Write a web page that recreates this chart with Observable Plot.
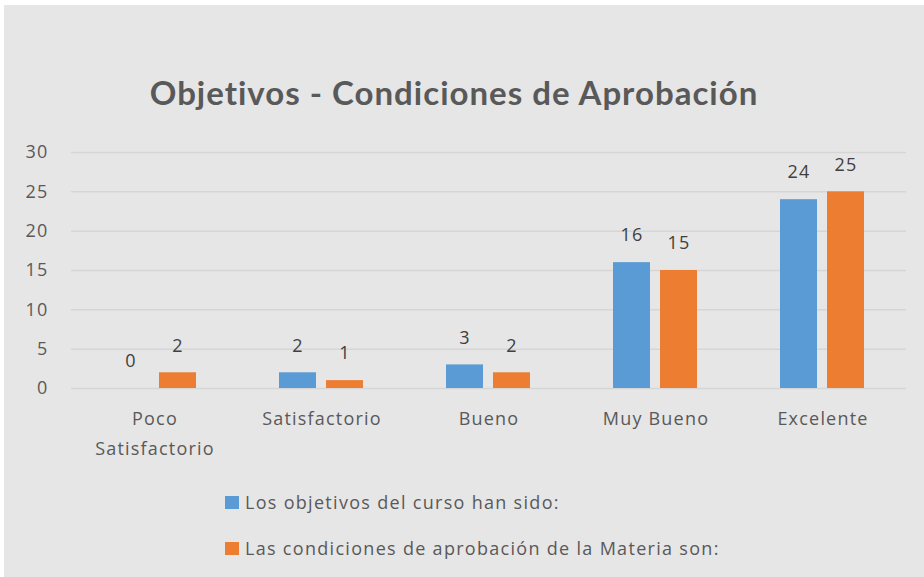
<!DOCTYPE html>
<html>
<head>
<meta charset="utf-8">
<script src="https://cdn.jsdelivr.net/npm/d3@7"></script>
<script src="https://cdn.jsdelivr.net/npm/@observablehq/plot@0.6"></script>
<style>
  html, body { margin: 0; padding: 0; background: #ffffff; }
  #page { position: relative; width: 924px; height: 577px; overflow: hidden; }
  #bg { position: absolute; left: 4px; top: 5px; width: 920px; height: 572px; background: #e6e6e6; }
  #title { position: absolute; left: 0; top: 72px; width: 908px; text-align: center;
           font-family: Lato, "Open Sans", sans-serif; font-weight: bold; font-size: 33px;
           letter-spacing: 1px; line-height: 40px; color: #595959; }
  #chart { position: absolute; left: 0; top: 120px; }
  #legend { position: absolute; left: 225px; top: 488px; font-family: "Open Sans", sans-serif;
            font-size: 18px; color: #595959; letter-spacing: 1.3px; }
  .item { display: flex; align-items: center; height: 28px; margin-bottom: 18px; }
  .sw { width: 14px; height: 13px; margin-right: 6px; }
</style>
</head>
<body>
<div id="page">
  <div id="bg"></div>
  <div id="title">Objetivos - Condiciones de Aprobación</div>
  <div id="chart"></div>
  <div id="legend"></div>
</div>
<script>
const categories = ["Poco\nSatisfactorio", "Satisfactorio", "Bueno", "Muy Bueno", "Excelente"];
const series = ["Los objetivos del curso han sido:", "Las condiciones de aprobación de la Materia son:"];
const objetivos = [0, 2, 3, 16, 24];
const condiciones = [2, 1, 2, 15, 25];
const yTicks = [0, 5, 10, 15, 20, 25, 30];
const colors = ["#5b9bd5", "#ed7d31"];

const data = [];
categories.forEach((c, i) => {
  data.push({cat: c, series: series[0], value: objetivos[i]});
  data.push({cat: c, series: series[1], value: condiciones[i]});
});

const chart = Plot.plot({
  width: 924,
  height: 360,
  marginLeft: 70,
  marginRight: 18,
  marginTop: 32,
  marginBottom: 92,
  style: {fontFamily: "'Open Sans', sans-serif", fontSize: "18px", background: "transparent", letterSpacing: "1.2px"},
  fx: {domain: categories, padding: 0, label: null, axis: null},
  x: {domain: series, paddingInner: 0.208, paddingOuter: 0.844, axis: null},
  y: {domain: [0, 30], label: null},
  color: {domain: series, range: colors},
  marks: [
    Plot.gridY(yTicks, {stroke: "#d6d6d6", strokeOpacity: 1, strokeWidth: 1.5}),
    Plot.axisY(yTicks, {tickSize: 0, tickPadding: 23, color: "#595959", fontSize: 18, label: null}),
    Plot.barY(data, {fx: "cat", x: "series", y: "value", fill: "series"}),
    Plot.text(data, {fx: "cat", x: "series", y: "value", text: d => String(d.value), dy: -27, fill: "#404040", fontSize: 18}),
    Plot.axisFx({anchor: "bottom", tickSize: 0, tickPadding: 15, color: "#595959", fontSize: 18, lineHeight: 1.67, label: null, textOverflow: null})
  ]
});
document.getElementById("chart").appendChild(chart);

const legend = document.getElementById("legend");
series.forEach((s, i) => {
  const row = document.createElement("div");
  row.className = "item";
  const sw = document.createElement("div");
  sw.className = "sw";
  sw.style.background = colors[i];
  const t = document.createElement("span");
  t.textContent = s;
  row.appendChild(sw);
  row.appendChild(t);
  legend.appendChild(row);
});
</script>
</body>
</html>
